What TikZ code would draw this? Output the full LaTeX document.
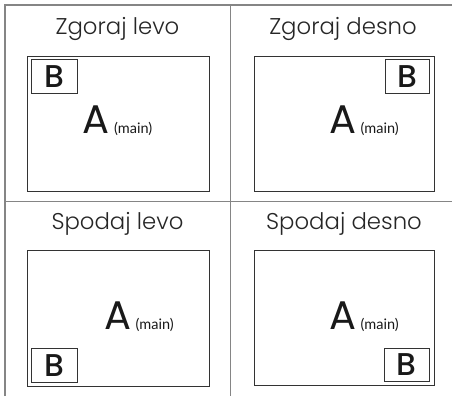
\documentclass[tikz,border=0pt]{standalone}
\usepackage{fontspec}
\setmainfont{Poppins}
\newfontfamily\titlefont{Poppins Light}
\newfontfamily\heavyfont{Poppins Medium}
\newfontfamily\smallfont{Lato}
\tikzset{
  frameline/.style={draw=black!48, line width=1.5pt},
  panel/.style={draw=black!80, line width=0.9pt},
  title/.style={anchor=base, inner sep=0pt, font=\titlefont\fontsize{22.8}{28}\selectfont, text=black!85},
  bigA/.style={anchor=base west, inner sep=0pt, font=\fontsize{40}{44}\selectfont, text=black!90},
  mainlbl/.style={anchor=base west, inner sep=0pt, font=\smallfont\fontsize{14.5}{16}\selectfont, text=black!90},
  bigB/.style={anchor=center, inner sep=0pt, font=\heavyfont\fontsize{31.5}{36}\selectfont, text=black!90}
}
\begin{document}
\begin{tikzpicture}[x=1pt,y=-1pt]
\useasboundingbox (0,0) rectangle (452,396);
% outer frame
\draw[frameline] (5,396) -- (5,5) -- (452,5);
\draw[frameline] (230.7,5) -- (230.7,396);
\draw[frameline] (5,201.3) -- (452,201.3);
% titles
\node[title] (t1) at (117.5,34.8) {Zgoraj levo};
\node[title] (t2) at (343,34.8) {Zgoraj desno};
\node[title] (t3) at (117.5,229.5) {Spodaj levo};
\node[title] (t4) at (344,229.5) {Spodaj desno};
% panels
\draw[panel] (27,56) rectangle (209,191);
\draw[panel] (254,56) rectangle (434,191);
\draw[panel] (27,250) rectangle (209,386);
\draw[panel] (254,250) rectangle (434,385);
% B boxes
\draw[panel] (31,59) rectangle (77,93);
\draw[panel] (385,59) rectangle (429,93);
\draw[panel] (31,348) rectangle (77,382);
\draw[panel] (384,348) rectangle (429,381);
\node[bigB] (b1) at (54,76.5) {B};
\node[bigB] (b2) at (407,76.5) {B};
\node[bigB] (b3) at (54,365.5) {B};
\node[bigB] (b4) at (406.5,365) {B};
% A labels
\node[bigA] (a1) at (82.5,133.5) {A};
\node[mainlbl] (m1) at (114,133.5) {(main)};
\node[bigA] (a2) at (329,133.5) {A};
\node[mainlbl] (m2) at (360.5,133.5) {(main)};
\node[bigA] (a3) at (104,329) {A};
\node[mainlbl] (m3) at (135.5,329) {(main)};
\node[bigA] (a4) at (329,329) {A};
\node[mainlbl] (m4) at (360.5,329) {(main)};
\end{tikzpicture}
\end{document}
